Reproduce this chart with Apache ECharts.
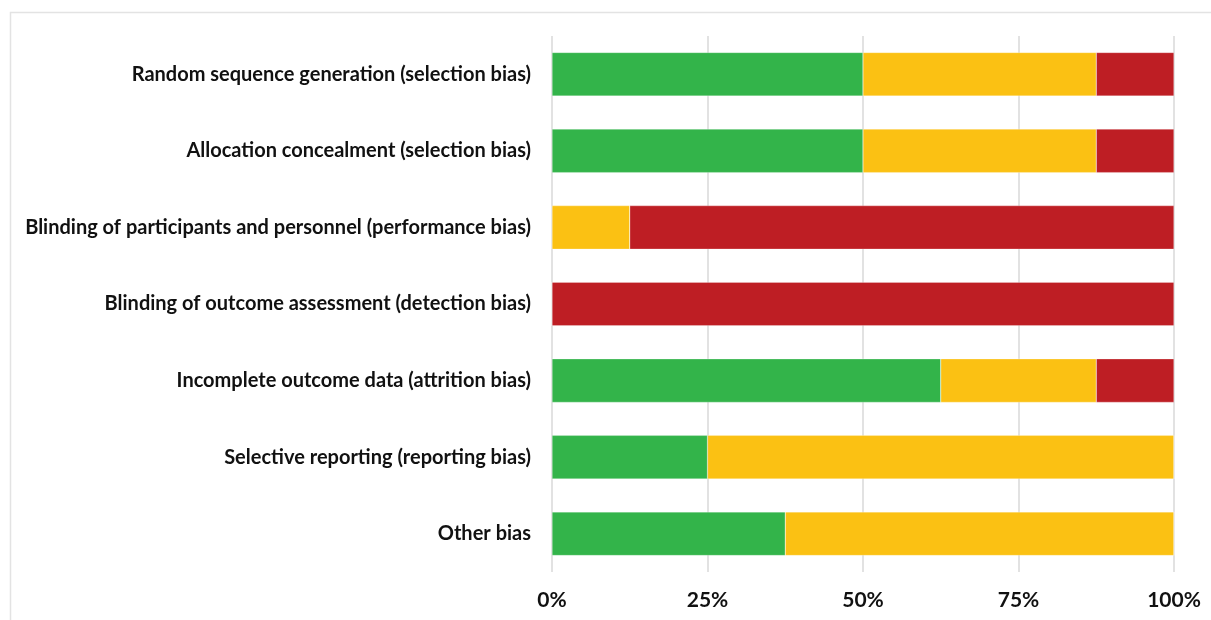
<!DOCTYPE html>
<html><head><meta charset="utf-8">
<script src="https://cdn.jsdelivr.net/npm/echarts@6/dist/echarts.min.js"></script>
<style>html,body{margin:0;padding:0;background:#fff}#c{width:1211px;height:620px}</style>
</head><body><div id="c"></div>
<script>
const categories = [
  "Random sequence generation (selection bias)",
  "Allocation concealment (selection bias)",
  "Blinding of participants and personnel (performance bias)",
  "Blinding of outcome assessment (detection bias)",
  "Incomplete outcome data (attrition bias)",
  "Selective reporting (reporting bias)",
  "Other bias"
];
const lowRisk     = [50, 50, 0, 0, 62.5, 25, 37.5];
const unclearRisk = [37.5, 37.5, 12.5, 0, 25, 75, 62.5];
const highRisk    = [12.5, 12.5, 87.5, 100, 12.5, 0, 0];
const xTicks = [0, 25, 50, 75, 100];

const font = "Lato, 'Open Sans', sans-serif";
const chart = echarts.init(document.getElementById('c'));
const mk = (name, data, color) => ({
  name, type: 'bar', stack: 'total', data, barCategoryGap: '43%',
  itemStyle: { color, borderColor: 'rgba(255,255,255,0.5)', borderWidth: 0.5 },
  silent: true
});
chart.setOption({
  animation: false,
  graphic: [{ type: 'rect', left: 8, top: 10, shape: { width: 1300, height: 700 },
    style: { fill: 'none', stroke: '#e3e3e3', lineWidth: 1.5 }, z: -1 }],
  grid: { left: 552, right: 37, top: 36, bottom: 48 },
  xAxis: {
    type: 'value', min: 0, max: 100, interval: 25,
    axisLine: { show: false }, axisTick: { show: false },
    splitLine: { lineStyle: { color: '#d9d9d9', width: 1.5 } },
    axisLabel: { formatter: v => xTicks.includes(v) ? v + '%' : '', color: '#111', fontFamily: font,
      fontWeight: 'bold', fontSize: 21, margin: 18 }
  },
  yAxis: {
    type: 'category', data: categories, inverse: true,
    axisLine: { show: false }, axisTick: { show: false },
    axisLabel: { color: '#111', fontFamily: font, fontWeight: 'bold', fontSize: 20, margin: 21 }
  },
  series: [
    mk('Low risk of bias', lowRisk, '#33b44a'),
    mk('Unclear risk of bias', unclearRisk, '#fbc113'),
    mk('High risk of bias', highRisk, '#be1e24')
  ]
});
</script></body></html>
